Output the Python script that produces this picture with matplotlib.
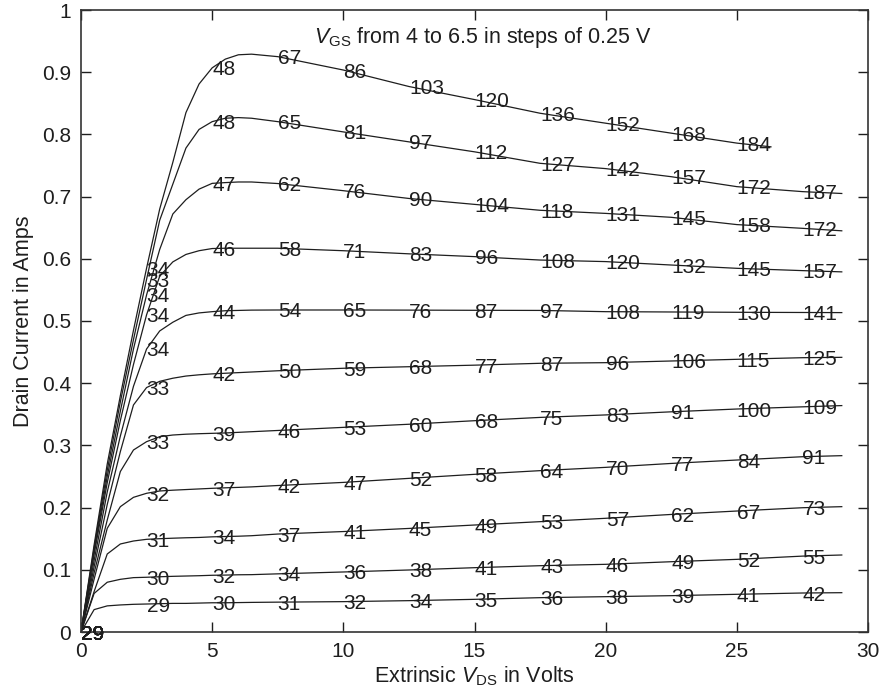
import numpy as np
import matplotlib
matplotlib.use("Agg")
import matplotlib.pyplot as plt

plt.rcParams['font.family'] = ['Liberation Sans', 'DejaVu Sans']
plt.rcParams['mathtext.fontset'] = 'custom'
plt.rcParams['mathtext.rm'] = 'Liberation Sans'
plt.rcParams['mathtext.it'] = 'Liberation Sans:italic'

# drain voltage samples (V)
vds = [0, 0.5, 1, 1.5, 2, 2.5, 3, 3.5, 4, 4.5, 5, 5.5, 6, 6.5, 7.5,
       10, 12.5, 15, 17.5, 20, 22.5, 25, 27.5, 29]
vds_top = vds[:22] + [26.3]   # highest Vgs curve stops earlier

# drain current (A), one list per Vgs
id_400 = [0, 0.036, 0.042, 0.0435, 0.0445, 0.045, 0.0455, 0.046, 0.046, 0.0465, 0.047, 0.047,
          0.0473, 0.0476, 0.048, 0.0488, 0.0504, 0.0525, 0.0552, 0.0568, 0.0584, 0.0606, 0.0627, 0.0632]
id_425 = [0, 0.062, 0.080, 0.0847, 0.0874, 0.088, 0.0888, 0.0895, 0.09, 0.0905, 0.0912, 0.0915,
          0.092, 0.0922, 0.0935, 0.0965, 0.0997, 0.1034, 0.1066, 0.1088, 0.113, 0.1168, 0.122, 0.1238]
id_450 = [0, 0.065, 0.1254, 0.1415, 0.1463, 0.149, 0.150, 0.1508, 0.1515, 0.152, 0.153, 0.1535,
          0.154, 0.1548, 0.1575, 0.1615, 0.1665, 0.172, 0.1774, 0.1828, 0.189, 0.1945, 0.1998, 0.2015]
id_475 = [0, 0.085, 0.1667, 0.2015, 0.2165, 0.223, 0.2267, 0.228, 0.229, 0.230, 0.231, 0.2318,
          0.2325, 0.2333, 0.2355, 0.2405, 0.247, 0.2535, 0.2594, 0.2647, 0.271, 0.2765, 0.2818, 0.2835]
id_500 = [0, 0.095, 0.18, 0.258, 0.2926, 0.306, 0.314, 0.3167, 0.318, 0.3188, 0.3194, 0.320,
          0.321, 0.322, 0.324, 0.329, 0.334, 0.3397, 0.345, 0.349, 0.354, 0.3585, 0.362, 0.364]
id_525 = [0, 0.105, 0.205, 0.29, 0.365, 0.393, 0.403, 0.408, 0.4115, 0.4135, 0.415, 0.416,
          0.417, 0.418, 0.420, 0.424, 0.4265, 0.429, 0.432, 0.433, 0.4357, 0.4384, 0.441, 0.4416]
id_550 = [0, 0.115, 0.225, 0.315, 0.395, 0.455, 0.484, 0.498, 0.509, 0.513, 0.515, 0.5165,
          0.517, 0.5175, 0.5177, 0.5177, 0.5175, 0.5172, 0.517, 0.515, 0.5145, 0.514, 0.5137, 0.5135]
id_575 = [0, 0.125, 0.24, 0.34, 0.43, 0.51, 0.572, 0.595, 0.607, 0.613, 0.6165, 0.617,
          0.617, 0.617, 0.617, 0.613, 0.608, 0.6035, 0.598, 0.5955, 0.590, 0.5847, 0.581, 0.579]
id_600 = [0, 0.13, 0.25, 0.355, 0.455, 0.542, 0.615, 0.672, 0.695, 0.712, 0.7213, 0.7225,
          0.7235, 0.7235, 0.721, 0.7095, 0.697, 0.6875, 0.678, 0.673, 0.6667, 0.655, 0.649, 0.645]
id_625 = [0, 0.135, 0.26, 0.37, 0.47, 0.567, 0.662, 0.72, 0.778, 0.808, 0.8205, 0.826,
          0.827, 0.826, 0.8205, 0.804, 0.788, 0.772, 0.7535, 0.745, 0.732, 0.716, 0.708, 0.705]
id_650 = [0, 0.14, 0.27, 0.38, 0.485, 0.585, 0.68, 0.755, 0.835, 0.881, 0.907, 0.921,
          0.928, 0.929, 0.925, 0.9035, 0.877, 0.856, 0.834, 0.818, 0.802, 0.786, 0.780]

# channel temperature labels at Vds = 0, 2.5, 5, ... 27.5
label_x = [0, 2.5, 5, 7.5, 10, 12.5, 15, 17.5, 20, 22.5, 25, 27.5]
t_400 = [29, 29, 30, 31, 32, 34, 35, 36, 38, 39, 41, 42]
t_425 = [29, 30, 32, 34, 36, 38, 41, 43, 46, 49, 52, 55]
t_450 = [29, 31, 34, 37, 41, 45, 49, 53, 57, 62, 67, 73]
t_475 = [29, 32, 37, 42, 47, 52, 58, 64, 70, 77, 84, 91]
t_500 = [29, 33, 39, 46, 53, 60, 68, 75, 83, 91, 100, 109]
t_525 = [29, 33, 42, 50, 59, 68, 77, 87, 96, 106, 115, 125]
t_550 = [29, 34, 44, 54, 65, 76, 87, 97, 108, 119, 130, 141]
t_575 = [29, 34, 46, 58, 71, 83, 96, 108, 120, 132, 145, 157]
t_600 = [29, 34, 47, 62, 76, 90, 104, 118, 131, 145, 158, 172]
t_625 = [29, 33, 48, 65, 81, 97, 112, 127, 142, 157, 172, 187]
t_650 = [29, 34, 48, 67, 86, 103, 120, 136, 152, 168, 184]

curves = [(vds, id_400, t_400), (vds, id_425, t_425), (vds, id_450, t_450),
          (vds, id_475, t_475), (vds, id_500, t_500), (vds, id_525, t_525),
          (vds, id_550, t_550), (vds, id_575, t_575), (vds, id_600, t_600),
          (vds, id_625, t_625), (vds_top, id_650, t_650)]

ink = '#1e1e1e'
fig = plt.figure(figsize=(8.84, 6.92), dpi=100)
ax = fig.add_axes([81/884, 60/692, 787/884, 622/692])

for x, y, temps in curves:
    ax.plot(x, y, color=ink, lw=0.9)
    for lx, t in zip(label_x, temps):
        i = x.index(lx)
        ax.text(lx, y[i], str(t), ha='left', va='center_baseline', fontsize=15,
                color=ink, clip_on=False)

ax.text(8.9, 0.955, r'$V_{\rm GS}$ from 4 to 6.5 in steps of 0.25 V',
        ha='left', va='center', fontsize=15.5, color=ink)

ax.set_xlim(0, 30)
ax.set_ylim(0, 1)
ax.set_xticks(np.arange(0, 31, 5))
ax.set_yticks(np.arange(0, 1.01, 0.1))
ax.set_yticklabels(['%g' % round(v, 1) for v in np.arange(0, 1.01, 0.1)])
ax.tick_params(direction='in', top=True, right=True, length=7, width=1,
               labelsize=15, colors=ink, pad=7)
for s in ax.spines.values():
    s.set_linewidth(1.2)
    s.set_color('#333333')

ax.set_xlabel(r'Extrinsic $V_{\rm DS}$ in Volts', fontsize=15.5, color=ink, labelpad=3)
ax.set_ylabel('Drain Current in Amps', fontsize=15.5, color=ink, labelpad=6)

fig.savefig('out.png', dpi=100)
